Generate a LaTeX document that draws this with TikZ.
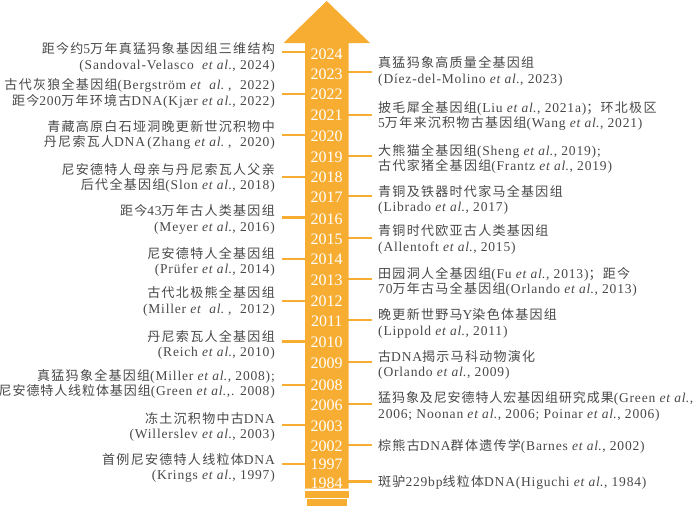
\documentclass[tikz,border=0pt]{standalone}
\usepackage{fontspec}
\setmainfont{Liberation Serif}[LetterSpace=6, Scale=1.04]
\newfontfamily\yrfont{Liberation Serif}
\newfontfamily\cjkfont[LetterSpace=10]{Noto Sans CJK SC}
\newfontfamily\cjktight[LetterSpace=7]{Noto Sans CJK SC}
\newcommand\zh[1]{{\cjkfont #1}}
\newcommand\zht[1]{{\cjktight #1}}
\definecolor{org}{HTML}{F7AD32}
\definecolor{txt}{HTML}{484848}
\tikzset{
  ltxt/.style={anchor=east, align=right, inner sep=0pt, text=txt, font=\fontsize{13}{15.5}\selectfont},
  rtxt/.style={anchor=west, align=left, inner sep=0pt, text=txt, font=\fontsize{13}{15.5}\selectfont},
  yearlbl/.style={text=white, font=\yrfont\fontsize{16}{16}\selectfont, inner sep=0pt, text height=11pt, text depth=0pt},
  conn/.style={draw=org, line width=2.7pt},
  arrowbody/.style={fill=org, draw=none}
}
\begin{document}
\begin{tikzpicture}[x=1pt,y=-1pt]
\useasboundingbox (0,0) rectangle (700,506);
\coordinate (sl) at (306,0);
\coordinate (sr) at (347.5,0);
% connectors
\foreach \i/\yy in {1/52,2/94,3/135,4/177,5/217.5,6/259,7/301,8/341.5,9/385,10/425,11/464}{
  \coordinate (cl\i) at (282,\yy);
  \draw[conn] (cl\i) -- (cl\i -| sl);
}
\foreach \i/\yy in {1/72,2/115,3/156,4/196,5/238,6/279,7/320,8/362,9/404,10/445,11/481.5}{
  \coordinate (cr\i) at (372,\yy);
  \draw[conn] (cr\i) -- (cr\i -| sr);
}
% arrow
\fill[arrowbody] (305,488.5) -- (305,43) -- (283.5,43) -- (326.7,1) -- (370,43) -- (348.5,43) -- (348.5,488.5) -- cycle;
\fill[arrowbody] (305,490.5) rectangle (348.5,497.5);
\fill[arrowbody] (306.5,499.3) rectangle (347,506);
% years
\foreach \yr/\yy in {2024/54,2023/74,2022/94,2021/115,2020/136,2019/157,2018/177,2017/197,2016/219,2015/239,2014/259,2013/280,2012/301,2011/321,2010/342,2009/363,2008/385,2006/405,2003/426,2002/446,1997/464,1984/483}{
  \node[yearlbl] (y\yr) at (326.7,\yy) {\yr};
}
% left texts
\node[ltxt] (l1) at (275,57.5) {\zh{距今约}5\zh{万年真猛犸象基因组三维结构}\\(Sandoval-Velasco\ \ \textit{et al}., 2024)};
\node[ltxt] (l2) at (275,93.5) {\zh{古代灰狼全基因组}(Bergström \textit{et\ \ al}.\ ,\ \ 2022)\\\zh{距今}200\zh{万年环境古}DNA(Kjær \textit{et al}., 2022)};
\node[ltxt] (l3) at (275,135) {\zh{青藏高原白石垭洞晚更新世沉积物中}\\\zh{丹尼索瓦人}DNA\,(Zhang \textit{et al}.\ ,\ \ 2020)};
\node[ltxt] (l4) at (275,178) {\zh{尼安德特人母亲与丹尼索瓦人父亲}\\\zh{后代全基因组}(Slon \textit{et al}., 2018)};
\node[ltxt] (l5) at (275,219.5) {\zh{距今}43\zh{万年古人类基因组}\\(Meyer \textit{et al}., 2016)};
\node[ltxt] (l6) at (275,262) {\zh{尼安德特人全基因组}\\(Prüfer \textit{et al}., 2014)};
\node[ltxt] (l7) at (275,301.5) {\zh{古代北极熊全基因组}\\(Miller \textit{et\ \ al}.\ ,\ \ 2012)};
\node[ltxt] (l8) at (275,345) {\zh{丹尼索瓦人全基因组}\\(Reich \textit{et al}., 2010)};
\node[ltxt] (l9) at (275,384) {\zh{真猛犸象全基因组}(Miller \textit{et al}., 2008);\\\zht{尼安德特人线粒体基因组}(Green \textit{et al}.,. 2008)};
\node[ltxt] (l10) at (275,427) {\zh{冻土沉积物中古}DNA\\(Willerslev \textit{et al}., 2003)};
\node[ltxt] (l11) at (275,468) {\zh{首例尼安德特人线粒体}DNA\\(Krings \textit{et al}., 1997)};
% right texts
\node[rtxt] (r1) at (378,71.5) {\zh{真猛犸象高质量全基因组}\\(Díez-del-Molino \textit{et al}., 2023)};
\node[rtxt] (r2) at (378,116) {\zh{披毛犀全基因组}(Liu \textit{et al}., 2021a)\zh{；环北极区}\\5\zh{万年来沉积物古基因组}(Wang \textit{et al}., 2021)};
\node[rtxt] (r3) at (378,159) {\zh{大熊猫全基因组}(Sheng \textit{et al}., 2019);\\\zh{古代家猪全基因组}(Frantz \textit{et al}., 2019)};
\node[rtxt] (r4) at (378,200) {\zh{青铜及铁器时代家马全基因组}\\(Librado \textit{et al}., 2017)};
\node[rtxt] (r5) at (378,239.5) {\zh{青铜时代欧亚古人类基因组}\\(Allentoft \textit{et al}., 2015)};
\node[rtxt] (r6) at (378,282) {\zh{田园洞人全基因组}(Fu \textit{et al}., 2013)\zh{；距今}\\70\zh{万年古马全基因组}(Orlando \textit{et al}., 2013)};
\node[rtxt] (r7) at (378,323.5) {\zh{晚更新世野马}Y\zh{染色体基因组}\\(Lippold \textit{et al}., 2011)};
\node[rtxt] (r8) at (378,365) {\zh{古}DNA\zh{揭示马科动物演化}\\(Orlando \textit{et al}., 2009)};
\node[rtxt] (r9) at (378,406.5) {\zht{猛犸象及尼安德特人宏基因组研究成果}(Green \textit{et al}.,\\2006; Noonan \textit{et al}., 2006; Poinar \textit{et al}., 2006)};
\node[rtxt] (r10) at (378,446) {\zh{棕熊古}DNA\zh{群体遗传学}(Barnes \textit{et al}., 2002)};
\node[rtxt] (r11) at (378,482) {\zh{斑驴}229bp\zh{线粒体}DNA(Higuchi \textit{et al}., 1984)};
\end{tikzpicture}
\end{document}
